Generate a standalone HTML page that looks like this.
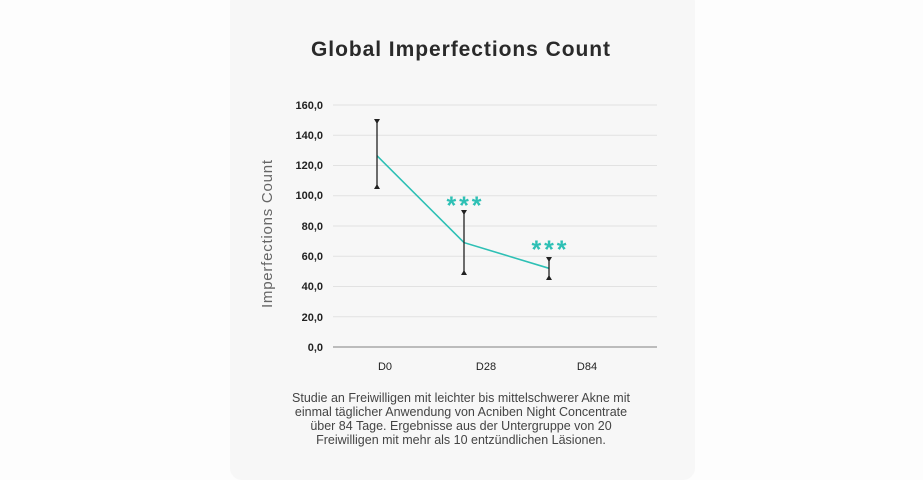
<!DOCTYPE html>
<html><head><style>
html,body{margin:0;padding:0;background:#fdfdfd;}
body{width:923px;height:465px;position:relative;overflow:hidden;font-family:"Liberation Sans",sans-serif;}
.card{position:absolute;left:230px;top:-10px;width:465px;height:490px;background:#f7f7f7;border-radius:12px;}
</style></head><body>
<div class="card"></div>
<svg width="923" height="465" style="position:absolute;left:0;top:0">
<text x="461" y="56" text-anchor="middle" font-size="21" font-weight="bold" fill="#2a2a2a" letter-spacing="1" textLength="300">Global Imperfections Count</text>
<g stroke="#e2e2e2" stroke-width="1">
<line x1="333" x2="657" y1="105" y2="105"/><line x1="333" x2="657" y1="135.25" y2="135.25"/>
<line x1="333" x2="657" y1="165.5" y2="165.5"/><line x1="333" x2="657" y1="195.75" y2="195.75"/>
<line x1="333" x2="657" y1="226" y2="226"/><line x1="333" x2="657" y1="256.25" y2="256.25"/>
<line x1="333" x2="657" y1="286.5" y2="286.5"/><line x1="333" x2="657" y1="316.75" y2="316.75"/>
</g>
<line x1="333" x2="657" y1="347" y2="347" stroke="#999" stroke-width="1.2"/>
<g font-size="11" font-weight="bold" fill="#222" text-anchor="end">
<text x="323" y="109">160,0</text><text x="323" y="139">140,0</text><text x="323" y="169">120,0</text>
<text x="323" y="199">100,0</text><text x="323" y="230">80,0</text><text x="323" y="260">60,0</text>
<text x="323" y="290">40,0</text><text x="323" y="321">20,0</text><text x="323" y="351">0,0</text>
</g>
<text transform="translate(272,234) rotate(-90)" text-anchor="middle" font-size="15" fill="#666" textLength="148">Imperfections Count</text>
<g font-size="11" fill="#222" text-anchor="middle">
<text x="385" y="370">D0</text><text x="486" y="370">D28</text><text x="587" y="370">D84</text>
</g>
<polyline points="377,155.7 464,242.6 549,268.3" fill="none" stroke="#2ec0b5" stroke-width="1.6"/>
<g stroke="#222" stroke-width="1.3">
<line x1="377" x2="377" y1="120" y2="188"/><line x1="464" x2="464" y1="211" y2="274"/><line x1="549" x2="549" y1="258" y2="279"/>
</g>
<g fill="#222">
<polygon points="374,119 380,119 377,124"/><polygon points="374,189 380,189 377,184"/>
<polygon points="461,210 467,210 464,215"/><polygon points="461,275 467,275 464,270"/>
<polygon points="546,257 552,257 549,262"/><polygon points="546,280 552,280 549,275"/>
</g>
<g font-size="25" font-weight="bold" fill="#2ec0b5" text-anchor="middle">
<text x="464" y="214" textLength="35">***</text><text x="549" y="258" textLength="35">***</text>
</g>
<g font-size="12.5" fill="#444" text-anchor="middle">
<text x="461" y="402" textLength="338">Studie an Freiwilligen mit leichter bis mittelschwerer Akne mit</text>
<text x="461" y="416">einmal täglicher Anwendung von Acniben Night Concentrate</text>
<text x="461" y="430">über 84 Tage. Ergebnisse aus der Untergruppe von 20</text>
<text x="461" y="444">Freiwilligen mit mehr als 10 entzündlichen Läsionen.</text>
</g>
</svg>
</body></html>
